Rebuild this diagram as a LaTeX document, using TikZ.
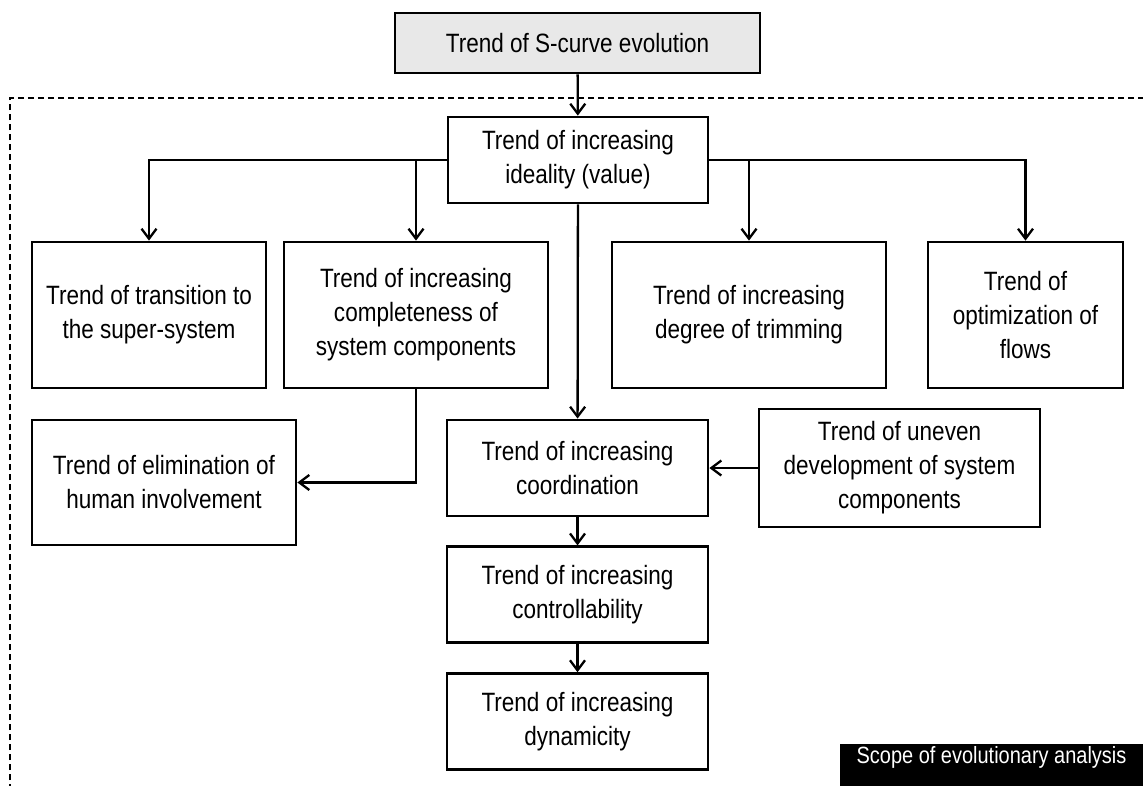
\documentclass[tikz,border=0pt]{standalone}
\usepackage{fontspec}
\setmainfont{Liberation Sans}[FakeStretch=0.85]
\usepackage{tikz}
\usetikzlibrary{arrows.meta, positioning}

\begin{document}
\begin{tikzpicture}[x=1pt,y=-1pt,node distance=28pt,line width=2.3pt,
    >={Straight Barb[length=10pt,width=15pt,line width=2.3pt]}]
  \tikzstyle{trend}=[draw,line width=2.8pt,align=center,inner sep=0pt,
    font=\fontsize{26.5}{34}\selectfont]
  \tikzstyle{scope}=[dash pattern=on 6pt off 4pt,line width=1.4pt]

  \useasboundingbox (0,0) rectangle (1143,785);

  \draw[scope] (10,790) -- (10,98) -- (1143,98);

  \node[trend,fill={rgb:black,1;white,10},minimum width=365pt,minimum height=60pt]
    (t_scurve) at (577.5,43) {Trend of S-curve evolution};
  \node[trend,minimum width=260pt,minimum height=86pt]
    (t_ideal) at (578,160) {Trend of increasing\\ideality (value)};

  \node[trend,minimum width=234pt,minimum height=146pt]
    (t_trans) at (149,315) {Trend of transition to\\the super-system};
  \node[trend,minimum width=264pt,minimum height=146pt]
    (t_complete) at (416,315) {Trend of increasing\\completeness of\\system components};
  \node[trend,minimum width=274pt,minimum height=146pt]
    (t_trim) at (749,315) {Trend of increasing\\degree of trimming};
  \node[trend,minimum width=195pt,minimum height=146pt]
    (t_flows) at (1025.5,315) {Trend of\\optimization of\\flows};

  \node[trend,minimum width=264pt,minimum height=125pt]
    (t_human) at (164,482.5) {Trend of elimination of\\human involvement};
  \node[trend,minimum width=261pt,minimum height=96pt]
    (t_coord) at (577.5,468) {Trend of increasing\\coordination};
  \node[trend,minimum width=281pt,minimum height=118pt]
    (t_uneven) at (899.5,468) {Trend of uneven\\development of system\\components};
  \node[trend,minimum width=261pt,minimum height=96pt]
    (t_control) [below=of t_coord] {Trend of increasing\\controllability};
  \node[trend,minimum width=261pt,minimum height=96pt]
    (t_dynamic) [below=of t_control] {Trend of increasing\\dynamicity};

  \node[fill=black,text=white,anchor=north,minimum width=303pt,inner ysep=2pt,
    text height=17pt,text depth=30pt,font=\fontsize{23.5}{28}\selectfont]
    (t_scope) at (991.5,743) {Scope of evolutionary analysis};

  \path[->]
  (t_scurve)  edge (t_ideal)
  (t_ideal)   edge (t_coord)
  (t_uneven)  edge (t_coord)
  (t_coord)   edge (t_control)
  (t_control) edge (t_dynamic)
  ;
  \draw[->] (t_ideal.west) -| (t_trans.north);
  \draw[->] (t_ideal.west) -| (t_complete.north);
  \draw[->] (t_ideal.east) -| (t_trim.north);
  \draw[->] (t_ideal.east) -| (t_flows.north);
  \draw[->] (t_complete.south) |- (t_human.east);
\end{tikzpicture}
\end{document}
